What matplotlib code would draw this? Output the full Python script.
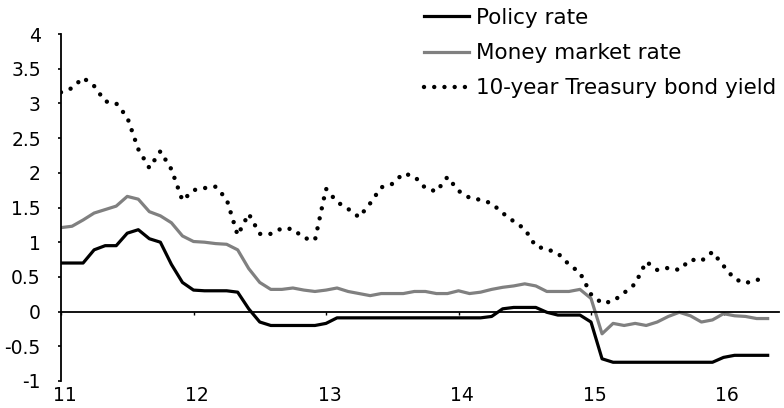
import matplotlib
matplotlib.use("Agg")
import matplotlib.pyplot as plt
from matplotlib.transforms import ScaledTranslation
import numpy as np

plt.rcParams['font.family'] = ['DejaVu Sans']

# Monthly data, Jan 2011 .. May 2016 (x = 11 + month/12)
start_year = 11
policy_rate = [0.70, 0.70, 0.70, 0.89, 0.95, 0.95, 1.13, 1.18, 1.05, 1.00, 0.68, 0.42,
               0.31, 0.30, 0.30, 0.30, 0.28, 0.04, -0.15, -0.20, -0.20, -0.20, -0.20, -0.20,
               -0.17, -0.09, -0.09, -0.09, -0.09, -0.09, -0.09, -0.09, -0.09, -0.09, -0.09, -0.09,
               -0.09, -0.09, -0.09, -0.07, 0.04, 0.06, 0.06, 0.06, -0.01, -0.05, -0.05, -0.05,
               -0.15, -0.68, -0.73, -0.73, -0.73, -0.73, -0.73, -0.73, -0.73, -0.73, -0.73, -0.73,
               -0.66, -0.63, -0.63, -0.63, -0.63]
money_market = [1.21, 1.23, 1.32, 1.42, 1.47, 1.52, 1.66, 1.62, 1.44, 1.38, 1.28, 1.09,
                1.01, 1.00, 0.98, 0.97, 0.89, 0.62, 0.42, 0.32, 0.32, 0.34, 0.31, 0.29,
                0.31, 0.34, 0.29, 0.26, 0.23, 0.26, 0.26, 0.26, 0.29, 0.29, 0.26, 0.26,
                0.30, 0.26, 0.28, 0.32, 0.35, 0.37, 0.40, 0.37, 0.29, 0.29, 0.29, 0.32,
                0.19, -0.32, -0.17, -0.20, -0.17, -0.20, -0.15, -0.07, -0.01, -0.06, -0.15, -0.12,
                -0.03, -0.06, -0.07, -0.10, -0.10]
bond_yield = [3.16, 3.22, 3.37, 3.25, 3.03, 3.00, 2.80, 2.34, 2.07, 2.31, 2.05, 1.60,
              1.75, 1.78, 1.80, 1.62, 1.10, 1.41, 1.12, 1.12, 1.20, 1.19, 1.06, 1.03,
              1.77, 1.58, 1.48, 1.36, 1.56, 1.79, 1.84, 1.99, 1.95, 1.78, 1.73, 1.94,
              1.74, 1.64, 1.61, 1.56, 1.42, 1.30, 1.19, 0.94, 0.90, 0.84, 0.68, 0.56,
              0.25, 0.12, 0.15, 0.27, 0.40, 0.72, 0.60, 0.63, 0.60, 0.75, 0.73, 0.86,
              0.66, 0.47, 0.41, 0.46, 0.45]
series_labels = ["Policy rate", "Money market rate", "10-year Treasury bond yield"]
x_ticks = [11, 12, 13, 14, 15, 16]
x_tick_labels = ["11", "12", "13", "14", "15", "16"]
y_ticks = [-1, -0.5, 0, 0.5, 1, 1.5, 2, 2.5, 3, 3.5, 4]
y_tick_labels = ["-1", "-0.5", "0", "0.5", "1", "1.5", "2", "2.5", "3", "3.5", "4"]

x = start_year + np.arange(len(policy_rate)) / 12.0

fig = plt.figure(figsize=(7.84, 4.08), dpi=100)
ax = fig.add_axes([61/784, 1-381/408, (779-61)/784, (381-34)/408])

ax.plot(x, policy_rate, color='black', lw=2.3, label=series_labels[0], solid_joinstyle='round')
ax.plot(x, money_market, color='#808080', lw=2.3, label=series_labels[1], solid_joinstyle='round')
ax.plot(x, bond_yield, color='black', lw=3.2, linestyle=(0, (0.001, 2.3)),
        dash_capstyle='round', label=series_labels[2])

ax.set_xlim(11, 11 + (779-61)/132.5)
ax.set_ylim(-1, 4)

ax.spines['top'].set_visible(False)
ax.spines['right'].set_visible(False)
ax.spines['bottom'].set_position(('data', 0))
ax.spines['bottom'].set_linewidth(1.3)
ax.spines['left'].set_linewidth(1.3)

ax.set_yticks(y_ticks)
ax.set_yticklabels(y_tick_labels)
ax.set_xticks(x_ticks)
ax.set_xticklabels(x_tick_labels)
ax.tick_params(axis='y', direction='out', length=2.5, width=1.2, labelsize=13.5, pad=12)
ax.tick_params(axis='x', direction='out', length=2.5, width=1.0, labelsize=13.5, pad=51)
for lab in ax.get_xticklabels():
    lab.set_transform(lab.get_transform() + ScaledTranslation(3.5/100, 0, fig.dpi_scale_trans))

leg = ax.legend(loc='upper left', bbox_to_anchor=(424/784, 1 - 8/408), bbox_transform=fig.transFigure,
                frameon=False, fontsize=15.5, handlelength=2.1, handletextpad=0.33,
                labelspacing=0.70, borderpad=0, borderaxespad=0)

fig.savefig('out.png', dpi=100)
